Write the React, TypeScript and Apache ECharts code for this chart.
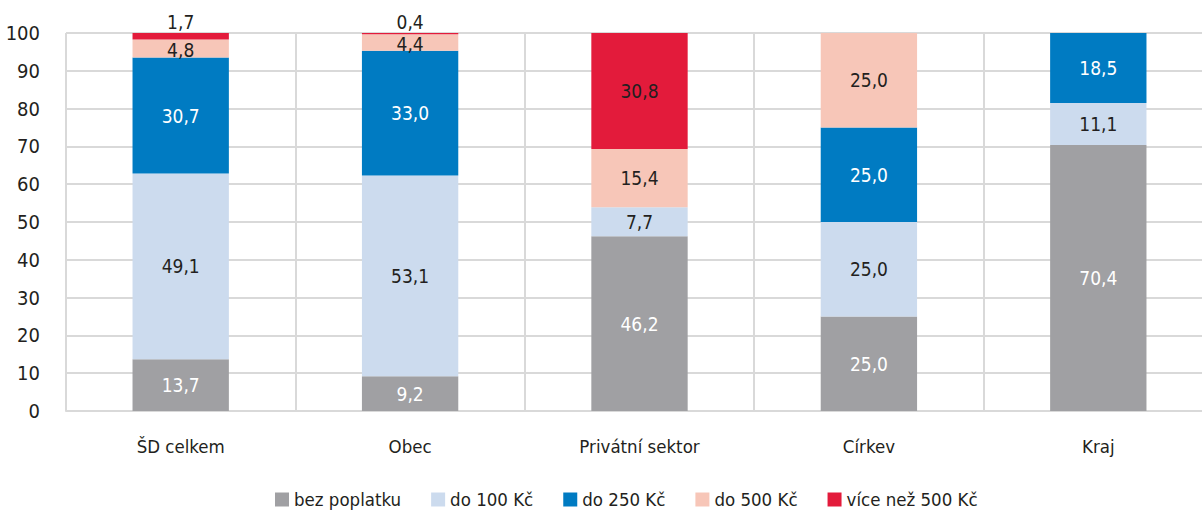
import React, { useEffect, useRef } from "react";
import * as echarts from "echarts";

const categories = ["ŠD celkem", "Obec", "Privátní sektor", "Církev", "Kraj"];
const seriesNames = ["bez poplatku", "do 100 Kč", "do 250 Kč", "do 500 Kč", "více než 500 Kč"];
const bezPoplatku = [13.7, 9.2, 46.2, 25.0, 70.4];
const do100 = [49.1, 53.1, 7.7, 25.0, 11.1];
const do250 = [30.7, 33.0, null, 25.0, 18.5];
const do500 = [4.8, 4.4, 15.4, 25.0, null];
const vice500 = [1.7, 0.4, 30.8, null, null];
const colors = ["#A0A0A3", "#CCDBEE", "#007BC2", "#F7C6B8", "#E31B3B"];
const labelColors = ["#ffffff", "#231F20", "#ffffff", "#231F20", "#231F20"];
const yTicks = [0, 10, 20, 30, 40, 50, 60, 70, 80, 90, 100];

const FONT = "'Liberation Sans Narrow', 'DejaVu Sans Condensed', sans-serif";

export default function App() {
  const ref = useRef<HTMLDivElement>(null);
  useEffect(() => {
    const chart = echarts.init(ref.current!, null, { renderer: "svg" });
    const all = [bezPoplatku, do100, do250, do500, vice500];
    const fmt = (v: number) => v.toFixed(1).replace(".", ",");
    chart.setOption({
      animation: false,
      textStyle: { fontFamily: FONT },
      grid: { left: 66, top: 33, right: 0, bottom: 105 },
      legend: {
        bottom: 2,
        left: 270,
        icon: "rect",
        itemWidth: 14,
        itemHeight: 14,
        itemGap: 30,
        textStyle: { fontFamily: FONT, fontSize: 18.5, color: "#231F20" },
        data: seriesNames,
      },
      xAxis: {
        type: "category",
        data: categories,
        axisTick: { show: false },
        axisLine: { lineStyle: { color: "#D9D9D9", width: 2 } },
        splitLine: { show: true, lineStyle: { color: "#D9D9D9", width: 2 } },
        axisLabel: { fontFamily: FONT, fontSize: 18.5, color: "#231F20", margin: 26 },
      },
      yAxis: {
        type: "value",
        min: yTicks[0],
        max: yTicks[yTicks.length - 1],
        interval: 10,
        axisLine: { show: false },
        axisTick: { show: false },
        splitLine: { lineStyle: { color: "#D9D9D9", width: 2 } },
        axisLabel: { fontFamily: FONT, fontSize: 20, color: "#231F20", margin: 26 },
      },
      series: all.map((arr, i) => ({
        name: seriesNames[i],
        type: "bar",
        stack: "total",
        barWidth: "42%",
        itemStyle: { color: colors[i] },
        data: arr.map((v) => {
          if (v === null) return null;
          const item: any = { value: v };
          if (i === 4 && v < 3) {
            item.label = { position: "top", distance: 2 };
          }
          if (i === 3 && v < 6) {
            item.label = { offset: [0, 2] };
          }
          return item;
        }),
        label: {
          show: true,
          position: "inside",
          fontFamily: FONT,
          fontSize: 19,
          color: labelColors[i],
          formatter: (p: any) => fmt(p.value),
        },
      })),
    });
    return () => chart.dispose();
  }, []);
  return (
    <div style={{ position: "absolute", left: 0, top: 0, width: 1202, height: 516, overflow: "hidden", background: "#fff" }}>
      <div ref={ref} style={{ width: 1213, height: 516 }} />
    </div>
  );
}
